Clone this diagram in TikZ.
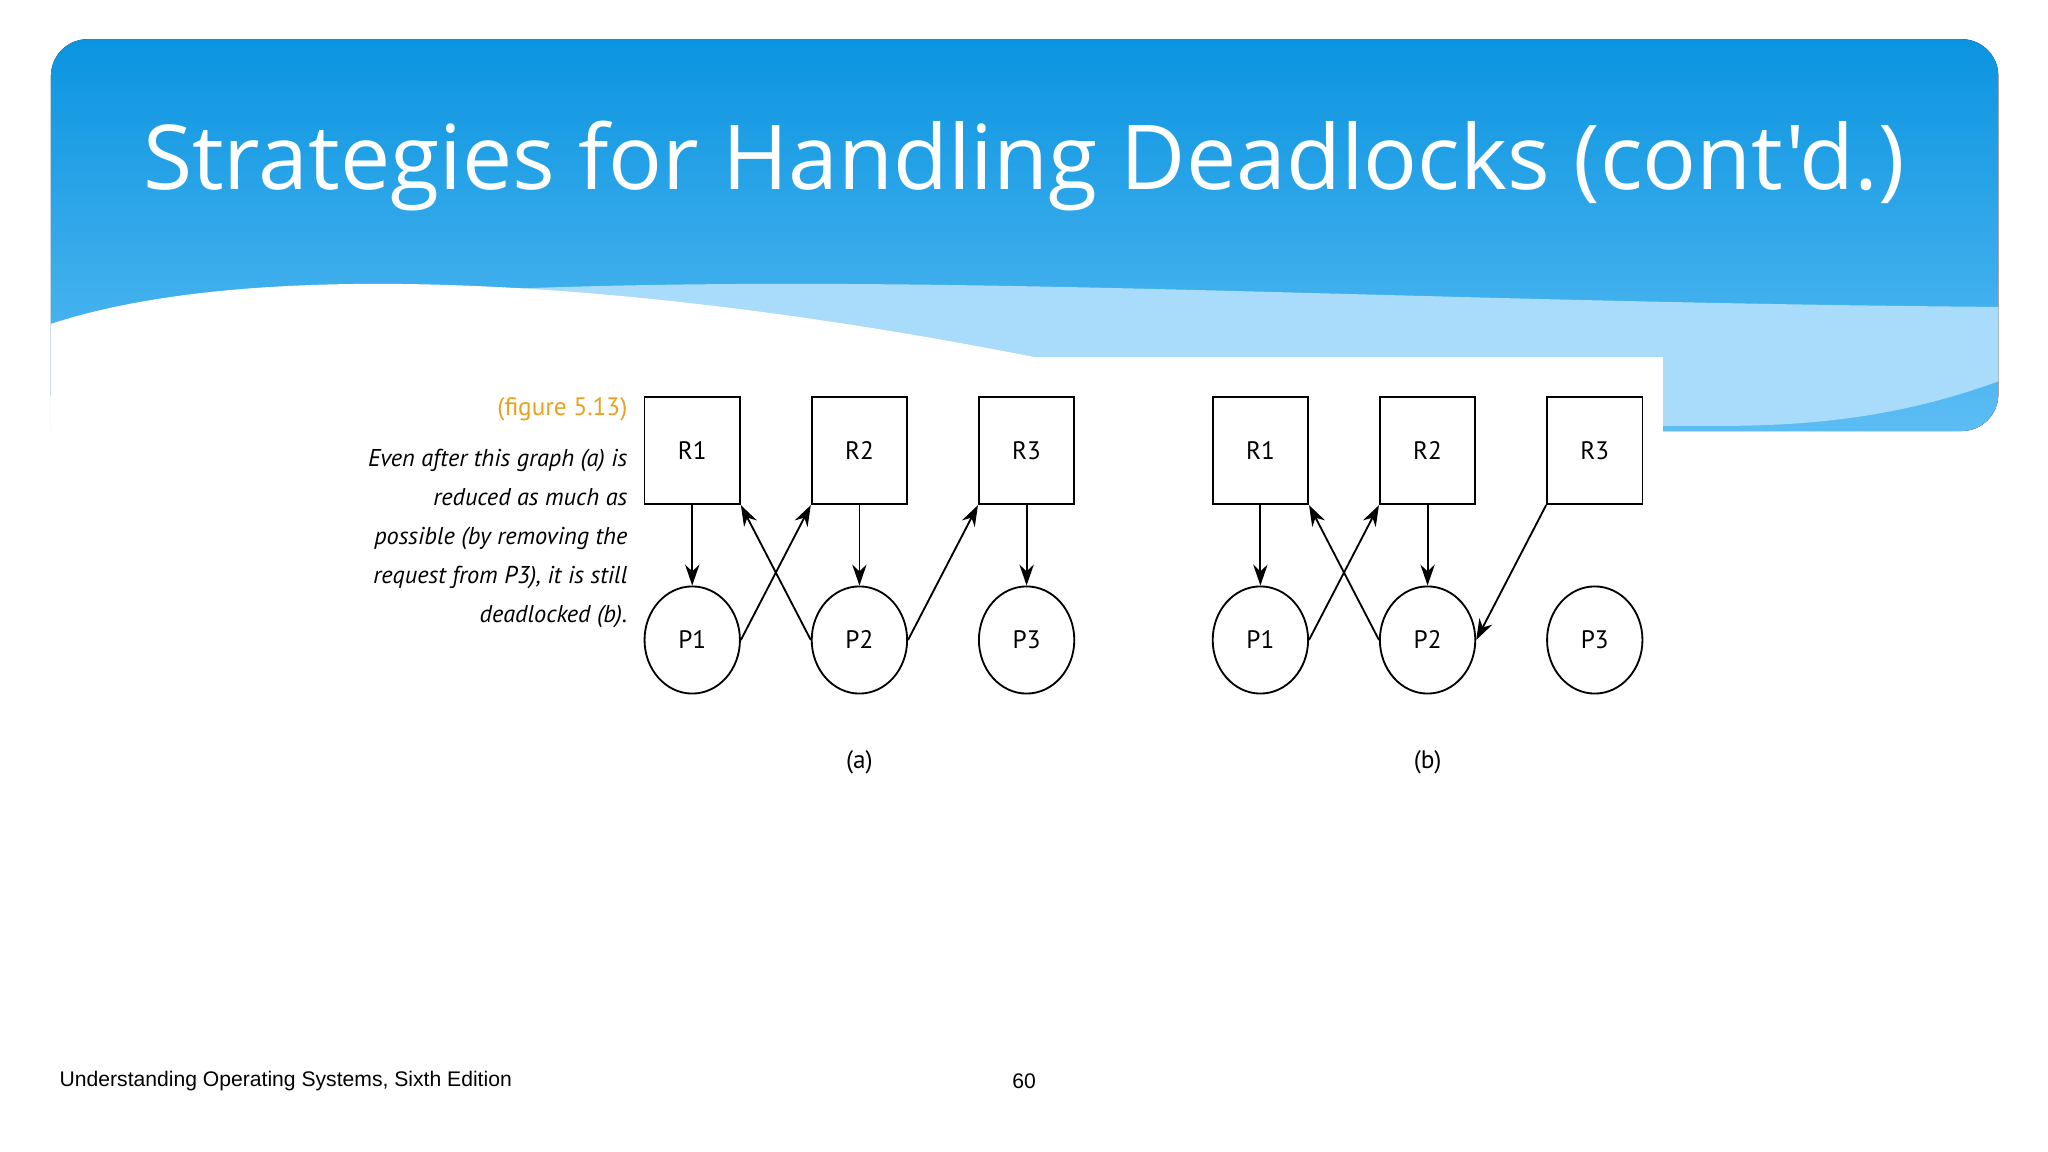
\documentclass[tikz,border=0pt]{standalone}
\usepackage{fontspec}
\setmainfont{Open Sans}
\newfontfamily\titlefont{Open Sans}
\newfontfamily\figfont{PT Sans}
\newfontfamily\footfont{Liberation Sans}
\usetikzlibrary{shapes.geometric,arrows.meta}
\definecolor{topblue}{HTML}{0A94E0}
\definecolor{lowblue}{HTML}{5CBDF4}
\definecolor{paleblue}{HTML}{A9DBFA}
\definecolor{capor}{HTML}{E9A21E}
\tikzset{
 res/.style={draw,line width=0.4pt,minimum width=0.73cm,minimum height=0.82cm,inner sep=0pt,font=\figfont\fontsize{5.5}{7}\selectfont},
 proc/.style={draw,ellipse,line width=0.4pt,minimum width=0.73cm,minimum height=0.82cm,inner sep=0pt,font=\figfont\fontsize{5.5}{7}\selectfont},
 edge/.style={-{Stealth[length=1.6mm,width=1.1mm]},line width=0.4pt},
 lbl/.style={font=\figfont\fontsize{5.5}{7}\selectfont}
}
\begin{document}
\begin{tikzpicture}[x=0.01cm,y=-0.01cm]
\useasboundingbox (0,0) rectangle (1568,882);
\fill[white] (0,0) rectangle (1568,882);
\fill[top color=topblue,bottom color=lowblue,rounded corners=8] (39,30) rectangle (1530,330);
\fill[paleblue] (39,330) -- (39,250) .. controls (500,190) and (900,230) .. (1530,235) -- (1530,292) .. controls (1480,310) and (1420,325) .. (1330,326) -- cycle;
\fill[white] (39,335) -- (39,248) .. controls (200,195) and (500,215) .. (800,275) .. controls (1000,310) and (1200,335) .. (1530,340) -- (1530,345) -- (39,345) -- cycle;
\fill[white] (125,273) rectangle (1273,880);
\fill[white] (0,345) rectangle (1568,882);
\node[white,font=\titlefont\fontsize{19.5}{24}\selectfont] (title) at (784,127) {Strategies for Handling Deadlocks (cont'd.)};
% caption
\node[lbl,anchor=east,text=capor,inner sep=0pt] (cap) at (481,313) {(figure 5.13)};
\node[lbl,anchor=north east,align=right,inner sep=0pt,font=\figfont\itshape\fontsize{5.3}{8.5}\selectfont] (txt) at (481,343) {Even after this graph (a) is\\reduced as much as\\possible (by removing the\\request from P3), it is still\\deadlocked (b).};
% (a)
\node[res] (aR1) at (530,345) {R1};
\node[res] (aR2) at (658,345) {R2};
\node[res] (aR3) at (786,345) {R3};
\node[proc] (aP1) at (530,490) {P1};
\node[proc] (aP2) at (658,490) {P2};
\node[proc] (aP3) at (786,490) {P3};
\draw[edge] (aR1) -- (aP1);
\draw[edge] (aR2) -- (aP2);
\draw[edge] (aR3) -- (aP3);
\draw[edge] (aP1.east) -- (aR2.south west);
\draw[edge] (aP2.west) -- (aR1.south east);
\draw[edge] (aP2.east) -- (aR3.south west);
\node[lbl] (la) at (658,584) {(a)};
% (b)
\node[res] (bR1) at (965,345) {R1};
\node[res] (bR2) at (1093,345) {R2};
\node[res] (bR3) at (1221,345) {R3};
\node[proc] (bP1) at (965,490) {P1};
\node[proc] (bP2) at (1093,490) {P2};
\node[proc] (bP3) at (1221,490) {P3};
\draw[edge] (bR1) -- (bP1);
\draw[edge] (bR2) -- (bP2);
\draw[edge] (bP1.east) -- (bR2.south west);
\draw[edge] (bP2.west) -- (bR1.south east);
\draw[edge] (bR3.south west) -- (bP2.east);
\node[lbl] (lb) at (1093,584) {(b)};
% footer
\node[anchor=west,inner sep=0pt,font=\footfont\fontsize{4.6}{5}\selectfont] (foot) at (45,828) {Understanding Operating Systems, Sixth Edition};
\node[font=\footfont\fontsize{4.6}{5}\selectfont] (pg) at (784,828) {60};
\end{tikzpicture}
\end{document}
